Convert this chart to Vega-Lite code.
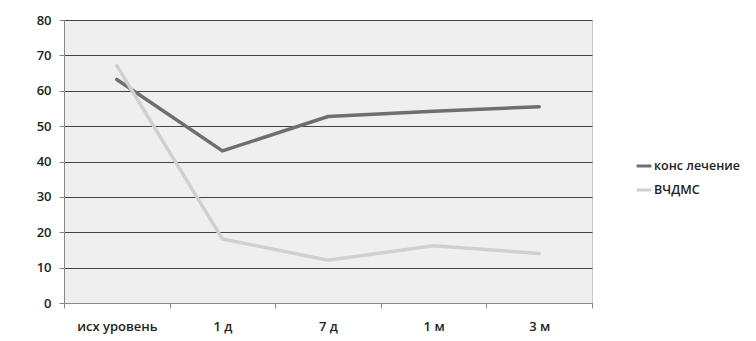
{
  "$schema": "https://vega.github.io/schema/vega-lite/v6.json",
  "width": 528,
  "height": 283,
  "autosize": "none",
  "padding": {"left": 64, "top": 20, "right": 164, "bottom": 38},
  "background": "white",
  "config": {
    "view": {"fill": "#efefef", "stroke": "#c8c8c8", "strokeWidth": 1},
    "font": "Open Sans"
  },
  "data": {
    "values": [
      {"t": "исх уровень", "s": "конс лечение", "v": 63.2},
      {"t": "1 д", "s": "конс лечение", "v": 43.0},
      {"t": "7 д", "s": "конс лечение", "v": 52.7},
      {"t": "1 м", "s": "конс лечение", "v": 54.2},
      {"t": "3 м", "s": "конс лечение", "v": 55.5},
      {"t": "исх уровень", "s": "ВЧДМС", "v": 67.1},
      {"t": "1 д", "s": "ВЧДМС", "v": 18.1},
      {"t": "7 д", "s": "ВЧДМС", "v": 12.1},
      {"t": "1 м", "s": "ВЧДМС", "v": 16.2},
      {"t": "3 м", "s": "ВЧДМС", "v": 14.0}
    ]
  },
  "mark": {"type": "line", "strokeWidth": 3.5, "strokeCap": "round"},
  "encoding": {
    "x": {
      "field": "t",
      "type": "nominal",
      "sort": ["исх уровень", "1 д", "7 д", "1 м", "3 м"],
      "scale": {"type": "band", "paddingInner": 0, "paddingOuter": 0},
      "axis": {
        "title": null,
        "labelAngle": 0,
        "tickBand": "extent",
        "domainColor": "#888888",
        "tickColor": "#888888",
        "tickSize": 5,
        "labelPadding": 12,
        "labelFontSize": 13,
        "labelFontWeight": 600,
        "labelColor": "#222222"
      }
    },
    "y": {
      "field": "v",
      "type": "quantitative",
      "scale": {"domain": [0, 80]},
      "axis": {
        "title": null,
        "values": [0, 10, 20, 30, 40, 50, 60, 70, 80],
        "grid": true,
        "gridColor": "#444444",
        "gridWidth": 1,
        "domainColor": "#888888",
        "tickColor": "#888888",
        "tickSize": 5,
        "labelPadding": 8,
        "labelFontSize": 13,
        "labelFontWeight": 600,
        "labelColor": "#222222"
      }
    },
    "color": {
      "field": "s",
      "type": "nominal",
      "sort": ["конс лечение", "ВЧДМС"],
      "scale": {"domain": ["конс лечение", "ВЧДМС"], "range": ["#6e6e6e", "#d0d0d0"]},
      "legend": {
        "title": null,
        "orient": "none",
        "legendX": 571,
        "legendY": 137,
        "symbolType": "stroke",
        "symbolStrokeWidth": 3,
        "symbolSize": 220,
        "labelFontSize": 12.5,
        "labelFontWeight": 600,
        "labelColor": "#222222",
        "labelOffset": 1,
        "rowPadding": 8
      }
    }
  }
}
